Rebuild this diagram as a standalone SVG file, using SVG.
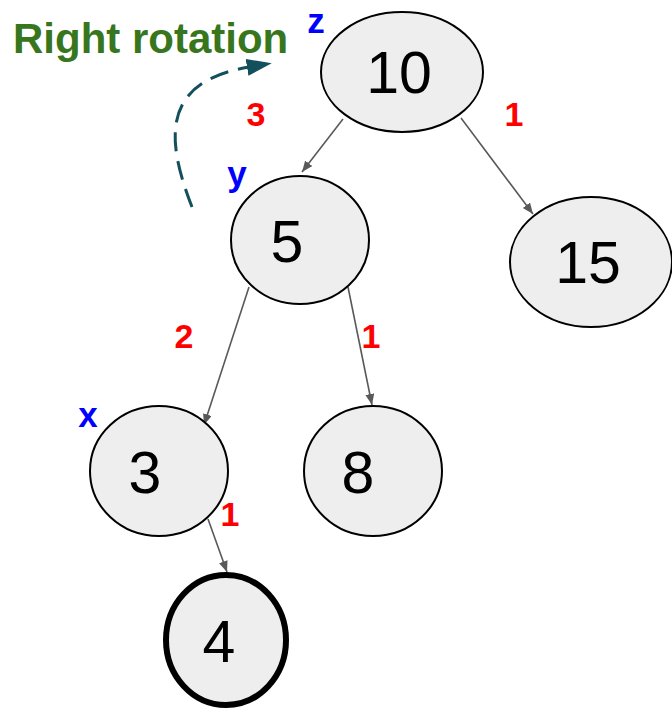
<svg xmlns="http://www.w3.org/2000/svg" width="672" height="710" viewBox="0 0 672 710">
<defs>
<style>
.node ellipse{fill:#eeeeee;stroke:#000;stroke-width:2}
.node text{font-family:"Liberation Sans",Arial,sans-serif;font-size:59px;fill:#000;text-anchor:middle}
.edge{stroke:#595959;stroke-width:1.6;fill:none;marker-end:url(#ah)}
.bal{font-family:"Liberation Sans",Arial,sans-serif;font-weight:bold;font-size:34px;fill:#ff0000;text-anchor:middle}
.var{font-family:"Liberation Sans",Arial,sans-serif;font-weight:bold;font-size:35px;fill:#0000ff;text-anchor:middle}
</style>
<marker id="ah" markerUnits="userSpaceOnUse" markerWidth="12" markerHeight="10" refX="11" refY="4.5" orient="auto">
<path d="M0,0 L11,4.5 L0,9 z" fill="#595959"/>
</marker>
<marker id="rot" markerUnits="userSpaceOnUse" markerWidth="30" markerHeight="20" refX="2" refY="8.5" orient="auto">
<path d="M0,0 L25,8.5 L0,17 z" fill="#134f5c"/>
</marker>
</defs>
<rect width="672" height="710" fill="#fff"/>
<text x="13" y="53" font-family="Liberation Sans,Arial,sans-serif" font-weight="bold" font-size="42" fill="#38761d">Right rotation</text>
<g id="connectors">
<line class="edge" x1="343" y1="119" x2="302" y2="172"/>
<line class="edge" x1="461" y1="118" x2="533" y2="214"/>
<line class="edge" x1="249" y1="287" x2="204" y2="425"/>
<line class="edge" x1="348" y1="287" x2="372" y2="405"/>
<line class="edge" x1="208" y1="519" x2="227" y2="572"/>
<path d="M192,207 C166,140 160,82 249,67" fill="none" stroke="#134f5c" stroke-width="3" stroke-dasharray="19,10" marker-end="url(#rot)"/>
</g>
<g id="n10" class="node"><ellipse cx="402" cy="72" rx="81" ry="60"/><text x="399" y="93">10</text></g>
<g id="n5" class="node"><ellipse cx="300" cy="240" rx="69" ry="64"/><text x="287" y="262">5</text></g>
<g id="n15" class="node"><ellipse cx="591" cy="262" rx="81" ry="65"/><text x="588" y="283">15</text></g>
<g id="n3" class="node"><ellipse cx="159" cy="471" rx="69" ry="65"/><text x="145" y="493">3</text></g>
<g id="n8" class="node"><ellipse cx="373" cy="471" rx="69" ry="65"/><text x="358" y="493">8</text></g>
<g id="n4" class="node"><ellipse cx="226" cy="640" rx="60" ry="65" style="stroke-width:6"/><text x="219" y="662">4</text></g>
<g id="labels">
<text class="var" x="316" y="33">z</text>
<text class="var" x="237" y="186">y</text>
<text class="var" x="88" y="427">x</text>
<text class="bal" x="256" y="126">3</text>
<text class="bal" x="514" y="126">1</text>
<text class="bal" x="184" y="348">2</text>
<text class="bal" x="371" y="348">1</text>
<text class="bal" x="230" y="526">1</text>
</g>
</svg>
